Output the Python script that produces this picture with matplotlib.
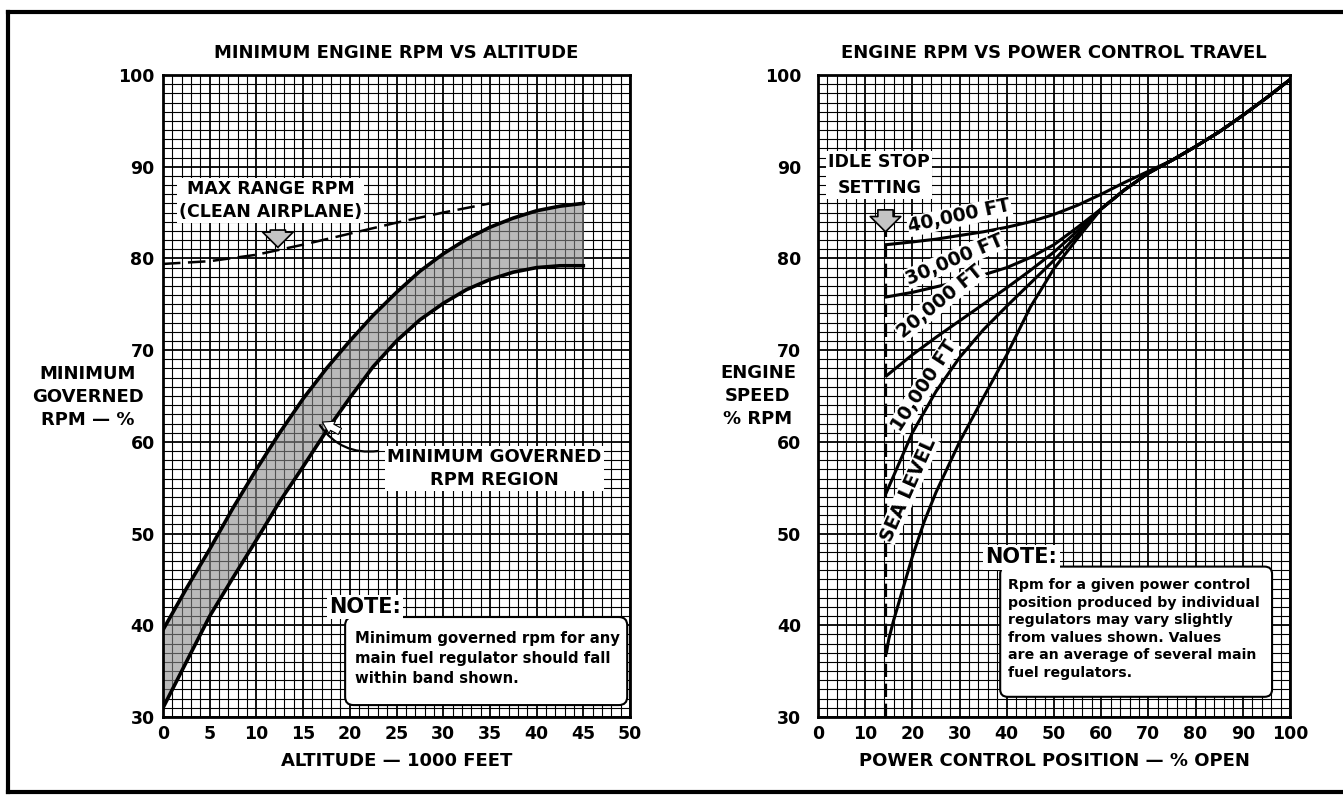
import matplotlib
matplotlib.use("Agg")
import matplotlib.pyplot as plt
from matplotlib.lines import Line2D
from matplotlib.patches import FancyBboxPatch
import numpy as np

plt.rcParams['font.family'] = ['DejaVu Sans']
plt.rcParams['font.weight'] = 'bold'

# ---- left chart: minimum governed rpm band vs altitude ----
alt = [0, 2.5, 5, 7.5, 10, 12.5, 15, 17.5, 20, 22.5, 25, 27.5, 30, 32.5, 35, 37.5, 40, 42.5, 45]
band_hi = [39.5, 44, 48.3, 52.8, 57, 61, 64.7, 68, 71, 73.8, 76.3, 78.6, 80.5, 82.1, 83.4, 84.4, 85.2, 85.7, 86]
band_lo = [31, 36, 41, 45.2, 49.3, 53.5, 57.3, 61.2, 64.8, 68.2, 71, 73.3, 75.1, 76.6, 77.7, 78.5, 79, 79.2, 79.2]
mr_alt = [0, 5, 10, 15, 20, 25, 30, 35]
max_range = [79.4, 79.7, 80.4, 81.5, 82.7, 83.9, 85, 86]

# ---- right chart: rpm vs power control position ----
pos = [14.5, 20, 25, 30, 35, 40, 45, 50, 55, 60, 65, 70, 75, 80, 85, 90, 95, 100]
common = [92.2, 93.8, 95.6, 97.5, 99.5]  # 80..100, all altitudes
rpm_40k = [81.5, 81.8, 82.1, 82.5, 82.9, 83.4, 84.0, 84.8, 85.8, 87.0, 88.3, 89.5, 90.7] + common
rpm_30k = [75.8, 76.3, 76.9, 77.5, 78.2, 79.0, 80.1, 81.5, 83.4, 85.4, 87.5, 89.3, 90.7] + common
rpm_20k = [67.2, 69.5, 71.4, 73.2, 75.0, 76.8, 78.7, 80.7, 83.0, 85.4, 87.5, 89.3, 90.7] + common
rpm_10k = [54.5, 61.0, 65.5, 69.2, 72.2, 74.8, 77.3, 79.8, 82.6, 85.4, 87.5, 89.3, 90.7] + common
sl_pos = [14.5, 15, 16, 18, 20, 22.5, 25, 30, 35, 40, 45, 50, 55, 60, 65, 70, 75, 80, 85, 90, 95, 100]
rpm_sl = [37, 38.5, 40.5, 44, 47.5, 51.3, 54.5, 60, 64.8, 69.5, 74.7, 78.9, 82.2, 85.4, 87.5, 89.3, 90.7] + common
idle_pos = 14.5

W, H = 1343, 800
fig = plt.figure(figsize=(W / 100, H / 100), dpi=100)
fig.patch.set_facecolor('white')

def px(x0, y0, x1, y1):
    return [x0 / W, 1 - y1 / H, (x1 - x0) / W, (y1 - y0) / H]

ax1 = fig.add_axes(px(163, 75, 630, 717))
ax2 = fig.add_axes(px(818, 75, 1290, 717))

def graph_paper(ax, xmax, xminor, xmajor):
    ax.set_xlim(0, xmax)
    ax.set_ylim(30, 100)
    for v in np.arange(0, xmax + 0.01, xminor):
        lw = 1.3 if abs(v / xmajor - round(v / xmajor)) < 1e-6 else 0.8
        ax.axvline(v, color='black', lw=lw, zorder=1)
    for v in np.arange(30, 100.01, 1):
        lw = 1.3 if v % 10 == 0 else 0.8
        ax.axhline(v, color='black', lw=lw, zorder=1)
    ax.set_yticks(range(30, 101, 10))
    ax.tick_params(length=0, labelsize=12.5, pad=6)
    for s in ax.spines.values():
        s.set_linewidth(2)
        s.set_zorder(5)

graph_paper(ax1, 50, 1, 5)
ax1.set_xticks(range(0, 51, 5))
graph_paper(ax2, 100, 2, 10)
ax2.set_xticks(range(0, 101, 10))
ax2.tick_params(axis='y', pad=12)

tkw = dict(fontsize=13, fontweight='bold')
ax1.set_title('MINIMUM ENGINE RPM VS ALTITUDE', pad=12, **tkw)
ax2.set_title('ENGINE RPM VS POWER CONTROL TRAVEL', pad=12, **tkw)
ax1.set_xlabel('ALTITUDE \u2014 1000 FEET', labelpad=6, **tkw)
ax2.set_xlabel('POWER CONTROL POSITION \u2014 % OPEN', labelpad=6, **tkw)
fig.text(88 / W, 1 - 397 / H, 'MINIMUM\nGOVERNED\nRPM \u2014 %', ha='center', va='center',
         multialignment='center', linespacing=1.35, **tkw)
fig.text(758 / W, 1 - 396 / H, 'ENGINE\nSPEED\n% RPM', ha='center', va='center',
         multialignment='center', linespacing=1.35, **tkw)

white_box = dict(facecolor='white', edgecolor='none', pad=1.5)
gray_arrow = dict(arrowstyle='simple,head_width=2.2,head_length=1.1,tail_width=1.1',
                  fc='#c4c4c4', ec='black', lw=1.2)

# left chart marks
ax1.fill_between(alt, band_lo, band_hi, color='#8c8c8c', alpha=0.6, lw=0, zorder=2)
ax1.plot(alt, band_hi, color='black', lw=2.6, zorder=3)
ax1.plot(alt, band_lo, color='black', lw=2.6, zorder=3)
ax1.plot(mr_alt, max_range, color='black', lw=1.8, ls=(0, (7, 3)), zorder=3)

ax1.text(11.5, 86.3, 'MAX RANGE RPM\n(CLEAN AIRPLANE)', ha='center', va='center',
         fontsize=12.5, linespacing=1.35, bbox=white_box, zorder=6)
ax1.annotate('', xy=(12.3, 80.9), xytext=(12.3, 83.4), arrowprops=gray_arrow, zorder=6)

ax1.text(35.5, 57.1, 'MINIMUM GOVERNED\nRPM REGION', ha='center', va='center',
         fontsize=13, linespacing=1.35, bbox=white_box, zorder=6)
ax1.annotate('', xy=(16.8, 61.8), xytext=(23.0, 59.0),
             arrowprops=dict(arrowstyle='-', color='black', lw=1.6,
                             connectionstyle='arc3,rad=-0.3', shrinkA=0, shrinkB=0), zorder=6)
ax1.annotate('', xy=(16.8, 62.3), xytext=(19.2, 61.0),
             arrowprops=dict(arrowstyle='simple,head_width=1.0,head_length=0.8,tail_width=0.5',
                             fc='white', ec='black', lw=0.8), zorder=7)

note_kw = dict(fontsize=15, fontweight='heavy', ha='left', va='center', bbox=white_box, zorder=7)
box1 = FancyBboxPatch((19.5, 31.3), 30.2, 9.6, boxstyle='round,pad=0,rounding_size=0.9',
                      mutation_aspect=1.0, fc='white', ec='black', lw=1.5, zorder=6)
ax1.add_patch(box1)
ax1.text(17.8, 42.0, 'NOTE:', **note_kw)
ax1.text(20.6, 36.4, 'Minimum governed rpm for any\nmain fuel regulator should fall\nwithin band shown.',
         ha='left', va='center', fontsize=10.7, linespacing=1.4, zorder=7)

# right chart marks
ax2.plot([idle_pos, idle_pos], [30, 84.3], color='black', lw=1.6, ls=(0, (6, 3)), zorder=3)
for vals in (rpm_40k, rpm_30k, rpm_20k, rpm_10k):
    ax2.plot(pos, vals, color='black', lw=2.2, zorder=3)
ax2.plot(sl_pos, rpm_sl, color='black', lw=2.2, zorder=3)

ax2.text(13.0, 89.1, 'IDLE STOP\nSETTING', ha='center', va='center', fontsize=12.5,
         linespacing=1.55, bbox=white_box, zorder=6)
ax2.annotate('', xy=(14.3, 82.6), xytext=(14.3, 85.6), arrowprops=gray_arrow, zorder=6)

lab_kw = dict(ha='center', va='center', fontsize=13.5,
              bbox=dict(facecolor='white', edgecolor='none', pad=0.5), zorder=6)
ax2.text(30.0, 84.6, '40,000 FT', rotation=12, **lab_kw)
ax2.text(29.0, 79.9, '30,000 FT', rotation=23, **lab_kw)
ax2.text(25.8, 75.3, '20,000 FT', rotation=39, **lab_kw)
ax2.text(22.5, 66.1, '10,000 FT', rotation=57, **lab_kw)
ax2.text(19.1, 54.8, 'SEA LEVEL', rotation=66, **lab_kw)

box2 = FancyBboxPatch((38.6, 32.2), 57.6, 14.2, boxstyle='round,pad=0,rounding_size=1.6',
                      mutation_aspect=0.5, fc='white', ec='black', lw=1.5, zorder=6)
ax2.add_patch(box2)
ax2.text(35.5, 47.4, 'NOTE:', **note_kw)
ax2.text(40.2, 39.6, 'Rpm for a given power control\nposition produced by individual\n'
         'regulators may vary slightly\nfrom values shown. Values\n'
         'are an average of several main\nfuel regulators.',
         ha='left', va='center', fontsize=10.2, linespacing=1.33, zorder=7)

# page frame
fig.add_artist(Line2D([8 / W, 1], [1 - 12 / H, 1 - 12 / H], color='black', lw=3))
fig.add_artist(Line2D([8 / W, 8 / W], [1 - 12 / H, 1 - 792 / H], color='black', lw=3))
fig.add_artist(Line2D([8 / W, 1], [1 - 792 / H, 1 - 792 / H], color='black', lw=3))

fig.savefig('out.png', dpi=100, facecolor='white')
